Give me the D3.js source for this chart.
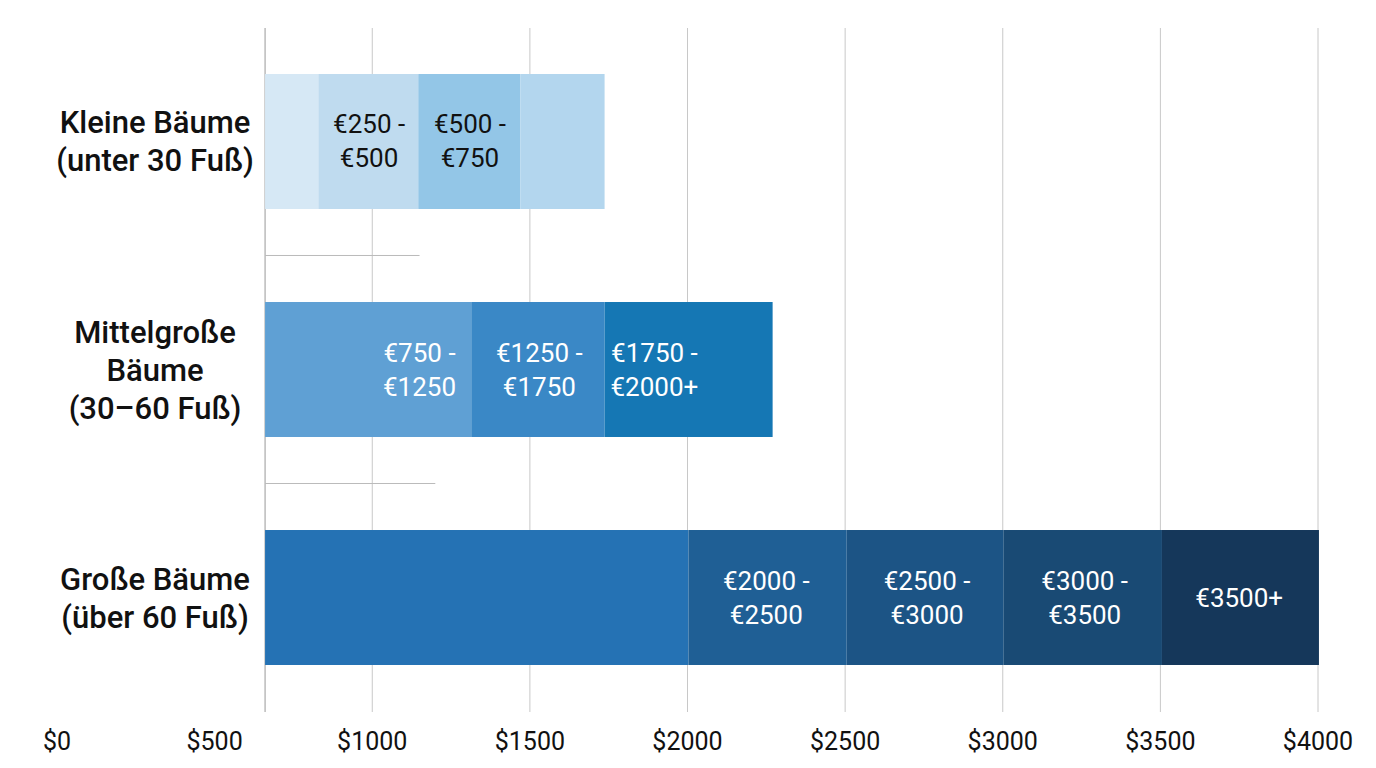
<!DOCTYPE html>
<html><head><meta charset="utf-8">
<script src="https://cdn.jsdelivr.net/npm/d3@7"></script>
<style>body{margin:0;background:#fff;font-family:Roboto,"Noto Sans",sans-serif}</style>
</head><body><div id="chart"></div>
<script>
const width = 1376, height = 768

const categories = [["Kleine Bäume", "(unter 30 Fuß)"], ["Mittelgroße", "Bäume", "(30–60 Fuß)"], ["Große Bäume", "(über 60 Fuß)"]]
const ticks = [0, 500, 1000, 1500, 2000, 2500, 3000, 3500, 4000]
const axisStart = 660
const segStarts = [[660, 829, 1146, 1470], [660, 1314, 1737], [660, 2003, 2505, 3003, 3505]]
const segEnds = [[829, 1146, 1470, 1737], [1314, 1737, 2270], [2003, 2505, 3003, 3505, 4003]]
const segLabels = [["", "€250 -\n€500", "€500 -\n€750", ""], ["€750 -\n€1250", "€1250 -\n€1750", "€1750 -\n€2000+"], ["", "€2000 -\n€2500", "€2500 -\n€3000", "€3000 -\n€3500", "€3500+"]]
const labelAt = [[0, 990, 1310, 0], [1150, 1530, 1895], [0, 2250, 2760, 3260, 3750]]
const segColors = [["#d6e8f5", "#bfdbef", "#93c6e7", "#b3d6ee"], ["#5fa0d4", "#3a88c6", "#1577b4"], ["#2572b4", "#1f5f95", "#1c5485", "#194a74", "#15375a"]]
const whiskers = [1150, 1200]

const x = d3.scaleLinear().domain([0, 4000]).range([57, 1318])
const y = d3.scaleBand().domain(d3.range(3)).range([28, 711]).paddingInner(0.408).paddingOuter(0.2018)

const svg = d3.select("#chart").append("svg").attr("width", width).attr("height", height)

svg.append("g").selectAll("line").data(ticks.filter(t => t >= 1000)).enter().append("line")
    .attr("x1", d => x(d)).attr("x2", d => x(d)).attr("y1", 28).attr("y2", 712)
    .attr("stroke", "#c8c8c8").attr("stroke-width", 1)
svg.append("line").attr("x1", x(axisStart)).attr("x2", x(axisStart)).attr("y1", 28).attr("y2", 712)
    .attr("stroke", "#999")

svg.append("g").selectAll("text").data(ticks).enter().append("text")
    .attr("x", d => x(d)).attr("y", 750).attr("text-anchor", "middle")
    .attr("font-size", 25).attr("fill", "#111").text(d => "$" + d)

svg.append("g").selectAll("line").data(whiskers).enter().append("line")
    .attr("x1", x(axisStart)).attr("x2", d => x(d))
    .attr("y1", (d, i) => (y(i) + y.bandwidth() + y(i + 1)) / 2).attr("y2", (d, i) => (y(i) + y.bandwidth() + y(i + 1)) / 2)
    .attr("stroke", "#bbb")

categories.forEach((cat, r) => {
    const g = svg.append("g")
    segStarts[r].forEach((s, i) => {
        g.append("rect").attr("x", x(s)).attr("width", x(segEnds[r][i]) - x(s))
            .attr("y", y(r)).attr("height", y.bandwidth()).attr("fill", segColors[r][i])
        if (segLabels[r][i]) {
            const lines = segLabels[r][i].split("\n")
            const t = g.append("text").attr("text-anchor", "middle").attr("font-size", 26)
                .attr("fill", r === 0 ? "#111" : "#fff")
            lines.forEach((l, k) => t.append("tspan").attr("x", x(labelAt[r][i]))
                .attr("y", y(r) + y.bandwidth() / 2 + (k - (lines.length - 1) / 2) * 34 + 9).text(l))
        }
    })
    const t = svg.append("text").attr("text-anchor", "middle").attr("font-size", 31)
        .attr("font-weight", 500).attr("fill", "#111")
    cat.forEach((l, k) => t.append("tspan").attr("x", 155)
        .attr("y", y(r) + y.bandwidth() / 2 + (k - (cat.length - 1) / 2) * 38 + 11).text(l))
})
</script></body></html>
